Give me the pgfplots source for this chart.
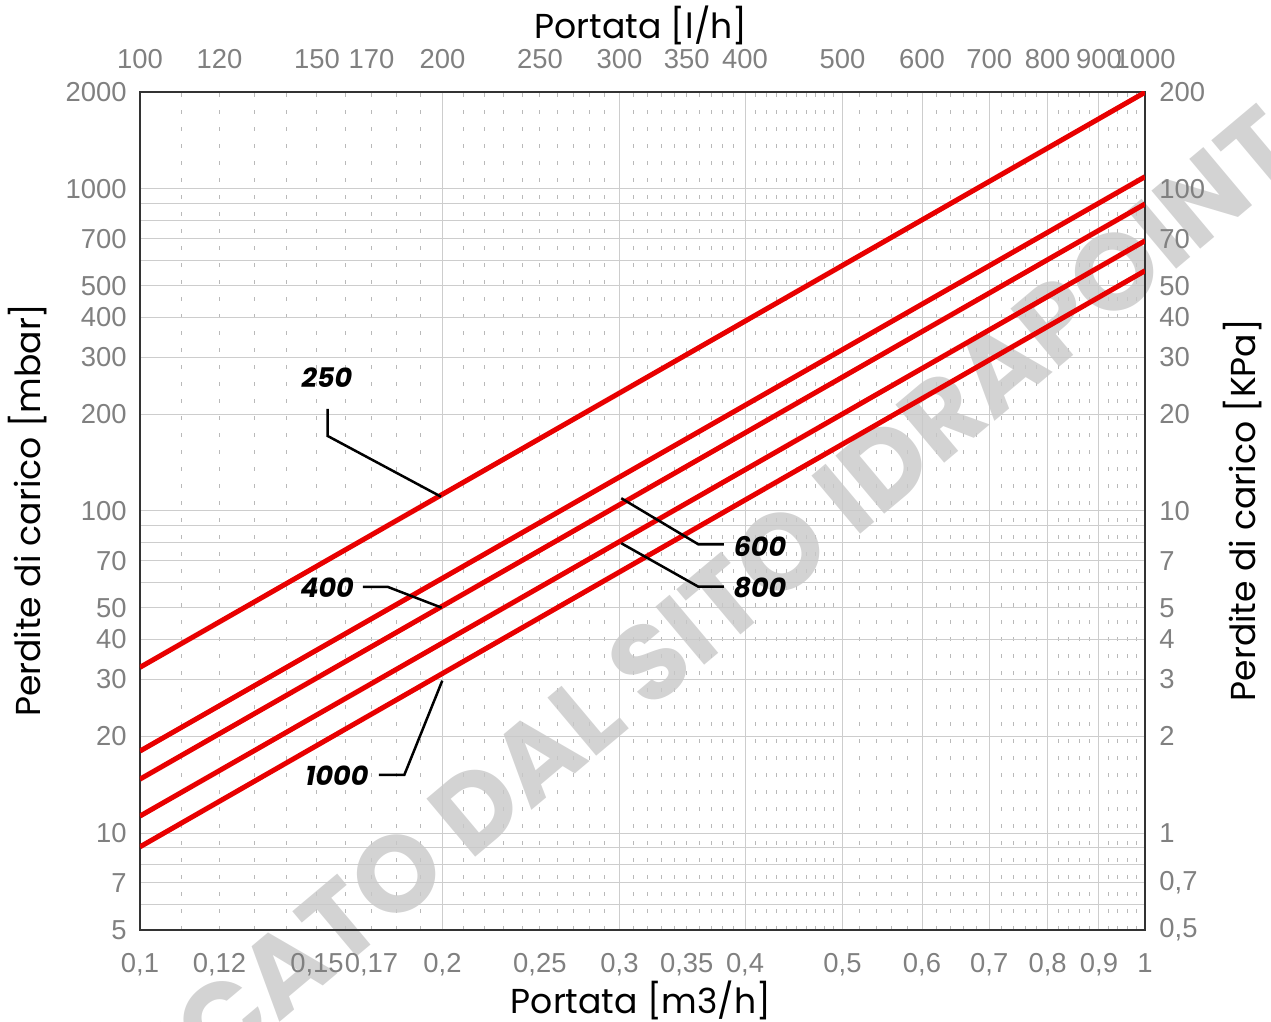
\documentclass[border=0pt]{standalone}
\usepackage{pgfplots}
\pgfplotsset{compat=1.18}
\usepackage{pgfplotstable}
\usepackage{fontspec}
\setmainfont{Liberation Sans}
\newfontfamily\titlefont{Poppins}
\definecolor{tickgray}{RGB}{128,128,128}
\definecolor{gridgray}{RGB}{205,205,205}
\definecolor{dashgray}{RGB}{185,185,185}
\definecolor{linered}{RGB}{232,0,0}
\definecolor{wmgray}{RGB}{200,200,200}

\pgfplotstableread{
x    y250  y400  y600  y800  y1000
0.1  32.7  17.97 14.7  11.29 9.06
1    1995  1091  898   690   557
}\datatable

\tikzset{
  tl/.style={font=\fontsize{13.7}{15}\selectfont, text=tickgray},
  ttl/.style={font=\titlefont\fontsize{17.3}{19}\selectfont, text=black},
  lbl/.style={font=\titlefont\bfseries\itshape\fontsize{13.5}{15}\selectfont},
}

\begin{document}
\begin{tikzpicture}
% ---------- grid axis ----------
\begin{axis}[xmode=log, ymode=log, scale only axis, width=502.5pt, height=419pt,
  major tick length=0pt, minor tick length=0pt,
  xmin=0.1, xmax=1, ymin=5, ymax=2000,
  axis line style={draw=none},
  xtick={0.2,0.3,0.4,0.5,0.6,0.7,0.8,0.9},
  ytick={5,6,7,8,9,10,20,30,40,50,60,70,80,90,100,200,300,400,500,600,700,800,900,1000,2000},
  xticklabels={}, yticklabels={},
  minor xtick={0.11,0.12,0.13,0.14,0.15,0.16,0.17,0.18,0.19,
               0.21,0.22,0.23,0.24,0.25,0.26,0.27,0.28,0.29,
               0.31,0.32,0.33,0.34,0.35,0.36,0.37,0.38,0.39,
               0.41,0.42,0.43,0.44,0.45,0.46,0.47,0.48,0.49,
               0.52,0.54,0.56,0.58,0.62,0.64,0.66,0.68,0.72,0.74,0.76,0.78,
               0.82,0.84,0.86,0.88,0.92,0.94,0.96,0.98},
  xmajorgrids, ymajorgrids, xminorgrids,
  major grid style={gridgray, line width=0.5pt},
  minor grid style={dashgray, line width=0.5pt, dash pattern=on 2pt off 6.5pt},
]
\end{axis}
% ---------- watermark ----------
\node[rotate=40, text=wmgray, opacity=0.8, font=\titlefont\bfseries\fontsize{54}{56}\selectfont]
  at (235pt,117.5pt) {SCARICATO DAL SITO IDRAPOINT};
% ---------- main axis ----------
\begin{axis}[xmode=log, ymode=log, scale only axis, width=502.5pt, height=419pt,
  major tick length=0pt, minor tick length=0pt,
  xmin=0.1, xmax=1, ymin=5, ymax=2000,
  axis line style={draw=black!80, line width=0.6pt},
  xtick={0.1,0.12,0.15,0.17,0.2,0.25,0.3,0.35,0.4,0.5,0.6,0.7,0.8,0.9,1},
  xticklabels={{0,1},{0,12},{0,15},{0,17},{0,2},{0,25},{0,3},{0,35},{0,4},{0,5},{0,6},{0,7},{0,8},{0,9},1},
  ytick={5,7,10,20,30,40,50,70,100,200,300,400,500,700,1000,2000},
  yticklabels={5,7,10,20,30,40,50,70,100,200,300,400,500,700,1000,2000},
  tick label style={tl},
  xticklabel style={anchor=base, yshift=-21.5pt},
  yticklabel style={anchor=east, inner sep=0pt, xshift=-6.5pt},
  xlabel={Portata [m3/h]},
  xlabel style={ttl, at={(axis description cs:0.4985,-0.0835)}, anchor=center},
  ylabel={Perdite di carico [mbar]},
  ylabel style={ttl, at={(axis description cs:-0.1114,0.501)}, anchor=center},
]
\addplot[linered, line width=2.5pt] table[x=x, y=y250] {\datatable};
\addplot[linered, line width=2.5pt] table[x=x, y=y400] {\datatable};
\addplot[linered, line width=2.5pt] table[x=x, y=y600] {\datatable};
\addplot[linered, line width=2.5pt] table[x=x, y=y800] {\datatable};
\addplot[linered, line width=2.5pt] table[x=x, y=y1000] {\datatable};
% leaders
\draw[black, line width=1.25pt] (rel axis cs:0.1868,0.6217) -- (rel axis cs:0.1868,0.5895) -- (rel axis cs:0.2995,0.5171);
\draw[black, line width=1.25pt] (rel axis cs:0.2219,0.4093) -- (rel axis cs:0.2468,0.4093) -- (rel axis cs:0.3002,0.3846);
\draw[black, line width=1.25pt] (rel axis cs:0.4789,0.5152) -- (rel axis cs:0.5555,0.4603) -- (rel axis cs:0.5811,0.4603);
\draw[black, line width=1.25pt] (rel axis cs:0.4789,0.4615) -- (rel axis cs:0.5555,0.4097) -- (rel axis cs:0.5811,0.4097);
\draw[black, line width=1.25pt] (rel axis cs:0.3008,0.2975) -- (rel axis cs:0.2630,0.185) -- (rel axis cs:0.2378,0.185);
\node[lbl] at (rel axis cs:0.1861,0.6587) {250};
\node[lbl] at (rel axis cs:0.1861,0.4081) {400};
\node[lbl] at (rel axis cs:0.6169,0.4582) {600};
\node[lbl] at (rel axis cs:0.6169,0.4081) {800};
\node[lbl] at (rel axis cs:0.196,0.1838) {1000};
\end{axis}
% ---------- top / right axis ----------
\begin{axis}[xmode=log, ymode=log, scale only axis, width=502.5pt, height=419pt,
  major tick length=0pt, minor tick length=0pt,
  xmin=100, xmax=1000, ymin=0.5, ymax=200,
  axis x line*=top, axis y line*=right,
  axis line style={draw=none},
  xtick={100,120,150,170,200,250,300,350,400,500,600,700,800,900,1000},
  xticklabels={100,120,150,170,200,250,300,350,400,500,600,700,800,900,1000},
  ytick={0.5,0.7,1,2,3,4,5,7,10,20,30,40,50,70,100,200},
  yticklabels={{0,5},{0,7},1,2,3,4,5,7,10,20,30,40,50,70,100,200},
  tick label style={tl},
  xticklabel style={anchor=base, yshift=11.5pt},
  yticklabel style={anchor=west, inner sep=0pt, xshift=7pt},
  xlabel={Portata [l/h]},
  xlabel style={ttl, at={(axis description cs:0.4985,1.08)}, anchor=center},
  ylabel={Perdite di carico [KPa]},
  ylabel style={ttl, at={(axis description cs:1.0975,0.501)}, anchor=center},
]
\end{axis}
\pgfresetboundingbox
\useasboundingbox (-70pt,-46pt) rectangle (565.5pt,465pt);
\end{tikzpicture}
\end{document}
